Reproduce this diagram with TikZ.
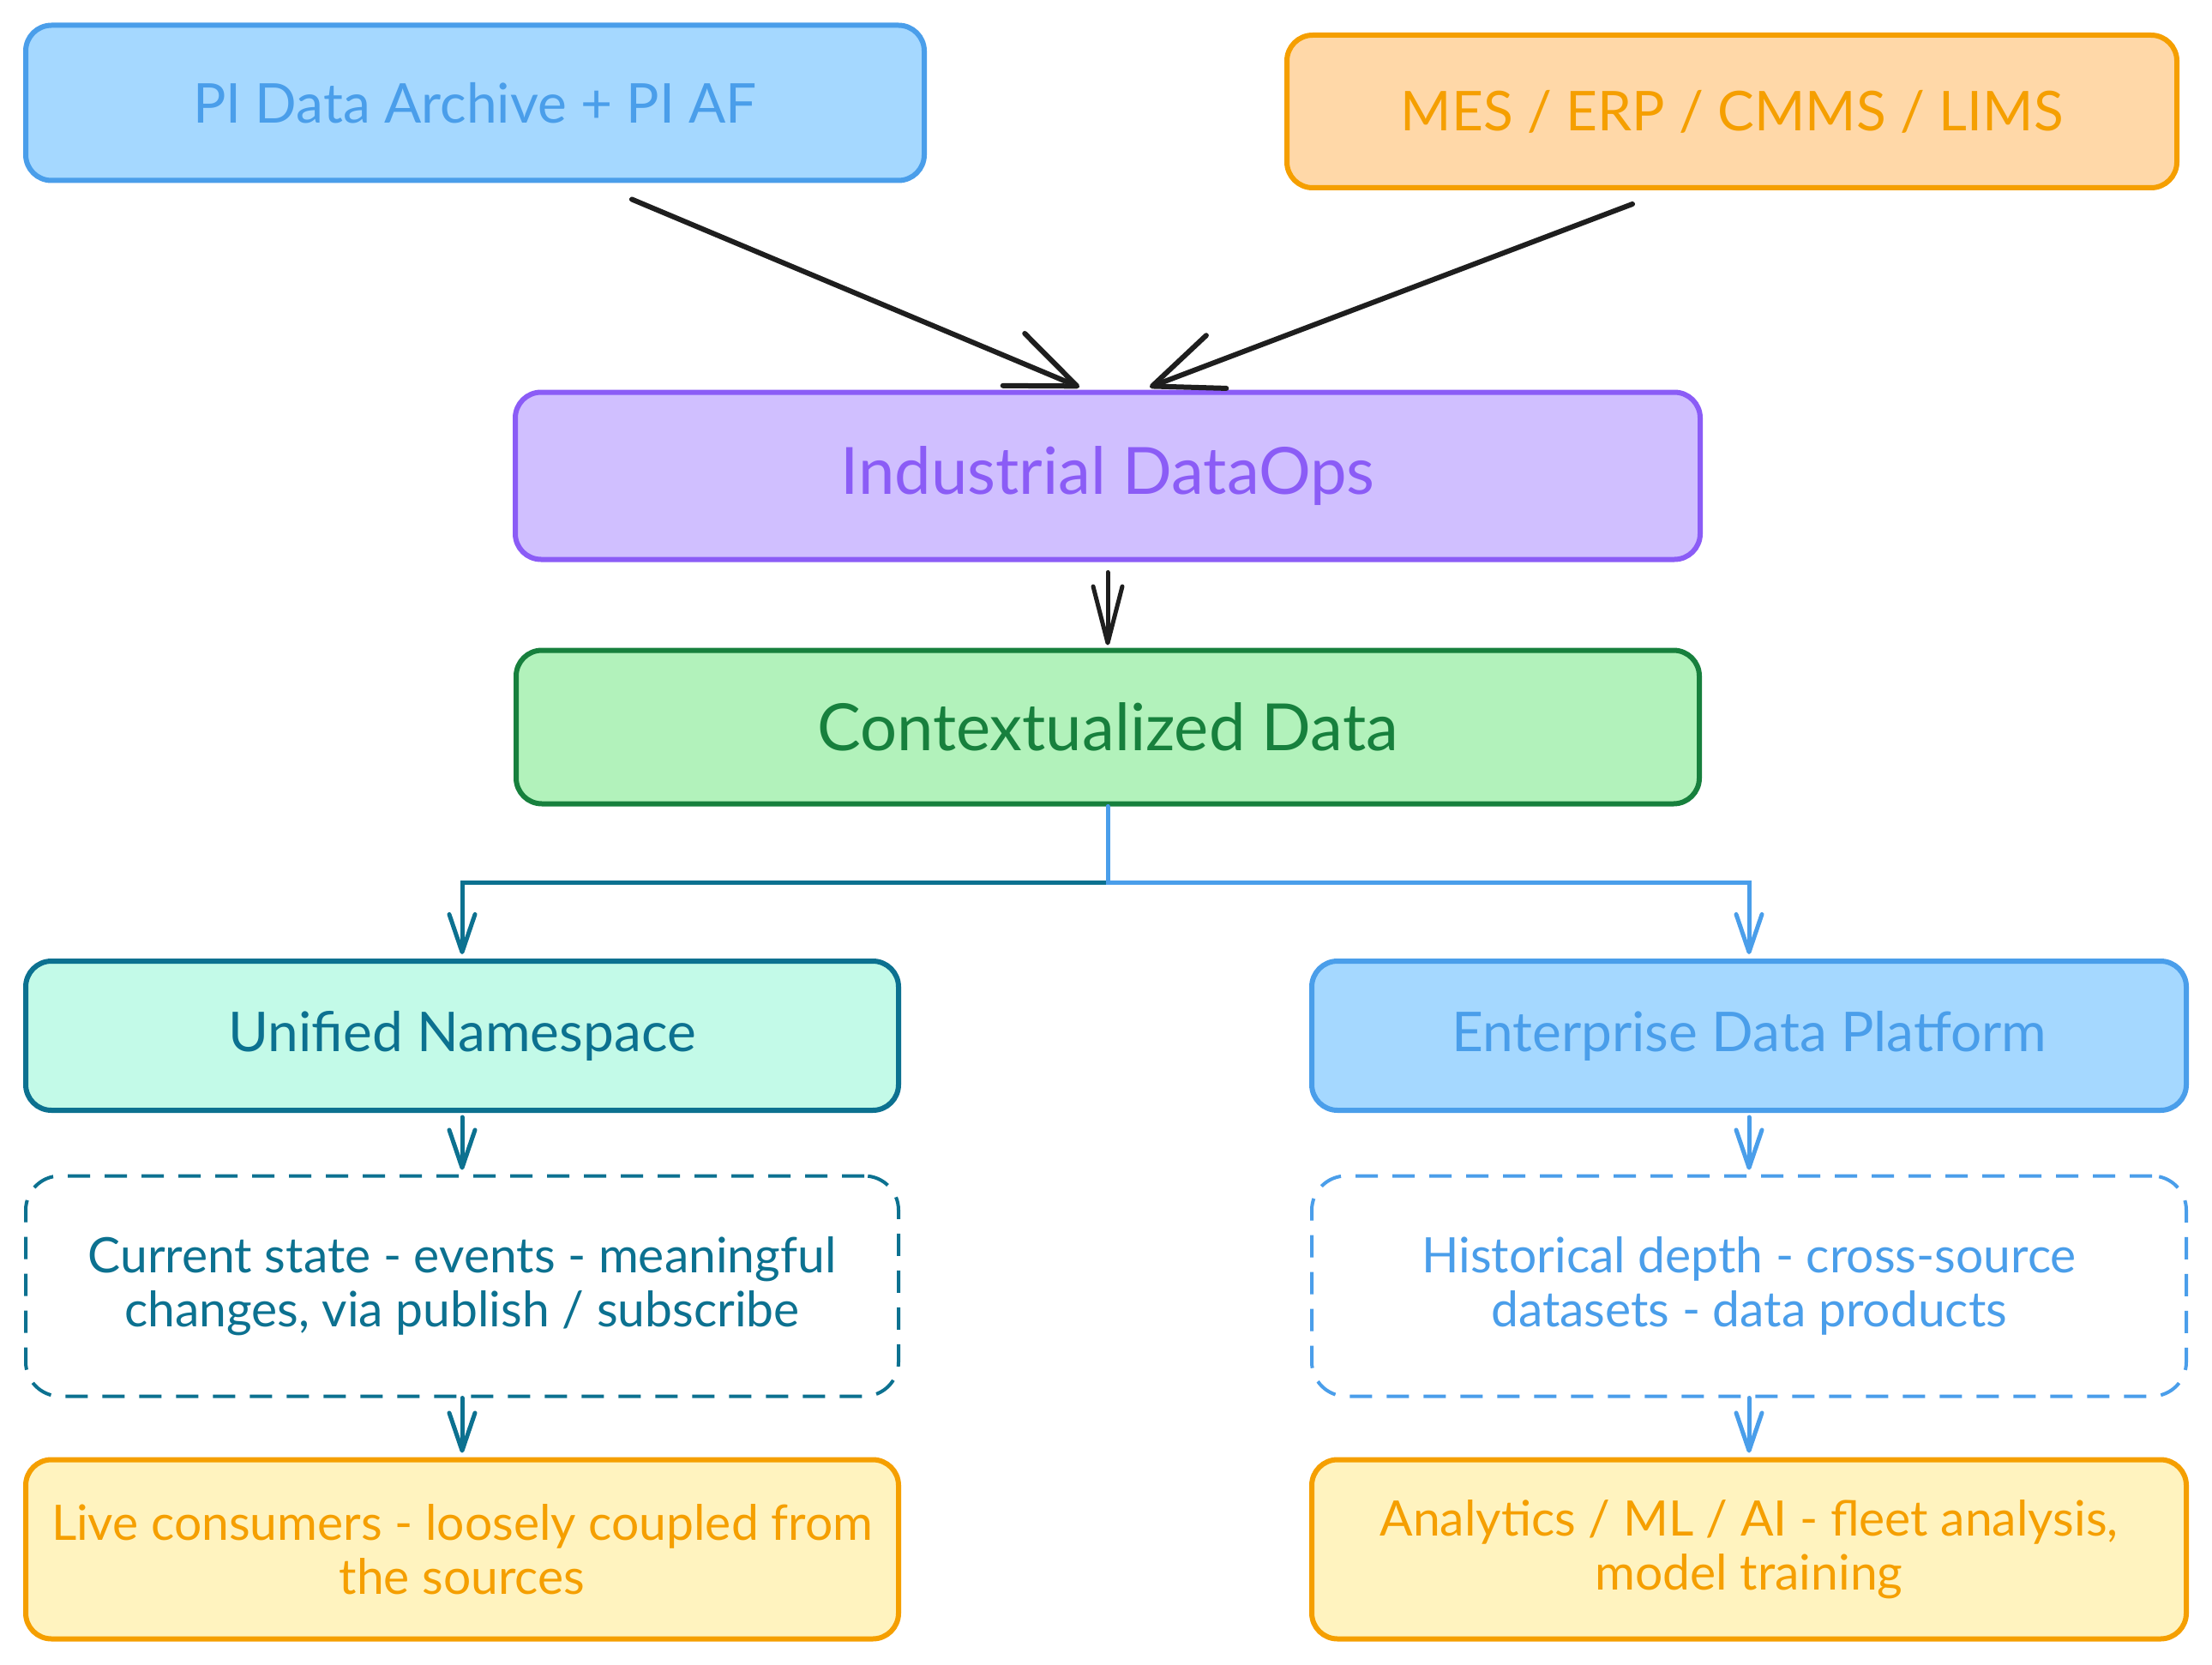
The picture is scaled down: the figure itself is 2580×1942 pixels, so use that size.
\documentclass[tikz,border=0pt]{standalone}
\usepackage{fontspec}
\setmainfont{Lato}
\usetikzlibrary{arrows.meta}
\definecolor{bluS}{HTML}{4A9EEA}
\definecolor{bluF}{HTML}{A5D8FF}
\definecolor{orgS}{HTML}{F59F00}
\definecolor{orgF}{HTML}{FFD8A8}
\definecolor{purS}{HTML}{8B5CF6}
\definecolor{purF}{HTML}{D0BFFF}
\definecolor{grnS}{HTML}{17803D}
\definecolor{grnF}{HTML}{B2F2BB}
\definecolor{tealS}{HTML}{0C7190}
\definecolor{tealF}{HTML}{C3FAE8}
\definecolor{yelF}{HTML}{FFF3BF}
\definecolor{inkK}{HTML}{1E1E1E}
\tikzset{
  box/.style={rounded corners=30pt, line width=6pt, align=center, inner sep=0pt},
  dbox/.style={rounded corners=40pt, line width=4pt, align=center, inner sep=0pt, dash pattern=on 26pt off 17pt},
  bigt/.style={font=\fontsize{76}{90}\selectfont},
  midt/.style={font=\fontsize{64}{76}\selectfont},
  smt/.style={font=\fontsize{57}{63}\selectfont},
  blk/.style={draw=inkK, line width=6pt, line cap=round, -{Straight Barb[length=80pt,width=66pt,round]}},
  blks/.style={draw=inkK, line width=5pt, line cap=round, -{Straight Barb[length=66pt,width=34pt,round]}},
  carr/.style={line width=5pt, line cap=round, -{Straight Barb[length=44pt,width=30pt,round]}},
}
\begin{document}
\begin{tikzpicture}[x=1pt,y=-1pt]
\useasboundingbox[fill=white] (0,0) rectangle (2580,1942);

\node[box, midt, fill=bluF, draw=bluS, text=bluS, minimum width=1048pt, minimum height=181pt] (pi) at (554,120) {PI Data Archive + PI AF};
\node[box, midt, fill=orgF, draw=orgS, text=orgS, minimum width=1038pt, minimum height=178pt] (mes) at (2020,130) {MES / ERP / CMMS / LIMS};
\node[box, bigt, fill=purF, draw=purS, text=purS, minimum width=1382pt, minimum height=195pt] (ops) at (1292,555) {Industrial DataOps};
\node[box, bigt, fill=grnF, draw=grnS, text=grnS, minimum width=1380pt, minimum height=179pt] (ctx) at (1292,848) {Contextualized Data};
\node[box, midt, fill=tealF, draw=tealS, text=tealS, minimum width=1018pt, minimum height=174pt] (uns) at (539,1208) {Unified Namespace};
\node[box, midt, fill=bluF, draw=bluS, text=bluS, minimum width=1020pt, minimum height=174pt] (edp) at (2040,1208) {Enterprise Data Platform};
\node[dbox, smt, draw=tealS, text=tealS, minimum width=1018pt, minimum height=257pt] (dl) at (539,1500) {Current state - events - meaningful\\changes, via publish / subscribe};
\node[dbox, smt, draw=bluS, text=bluS, minimum width=1020pt, minimum height=257pt] (dr) at (2040,1500) {Historical depth - cross-source\\datasets - data products};
\node[box, smt, fill=yelF, draw=orgS, text=orgS, minimum width=1018pt, minimum height=209pt] (live) at (539,1807) {Live consumers - loosely coupled from\\the sources};
\node[box, smt, fill=yelF, draw=orgS, text=orgS, minimum width=1020pt, minimum height=209pt] (ana) at (2040,1807) {Analytics / ML / AI - fleet analysis,\\model training};

% inputs to DataOps
\draw[blk] ([xshift=183pt,yshift=-19pt]pi.south) -- ([xshift=-33pt,yshift=3pt]ops.north);
\draw[blk] ([xshift=-116pt,yshift=-16pt]mes.south) -- ([xshift=49pt,yshift=3pt]ops.north);
\draw[blks] ([yshift=-12pt]ops.south) -- ([yshift=3pt]ctx.north);

% split
\draw[carr, draw=tealS] (ctx.south) -- ++(0,89) -| ([yshift=5pt]uns.north);
\draw[carr, draw=bluS] (ctx.south) -- ++(0,89) -| ([yshift=5pt]edp.north);

% chains
\draw[carr, draw=tealS] ([yshift=-5pt]uns.south) -- ([yshift=5pt]dl.north);
\draw[carr, draw=tealS] (dl.south) -- ([yshift=5pt]live.north);
\draw[carr, draw=bluS] ([yshift=-5pt]edp.south) -- ([yshift=5pt]dr.north);
\draw[carr, draw=bluS] (dr.south) -- ([yshift=5pt]ana.north);
\end{tikzpicture}
\end{document}
